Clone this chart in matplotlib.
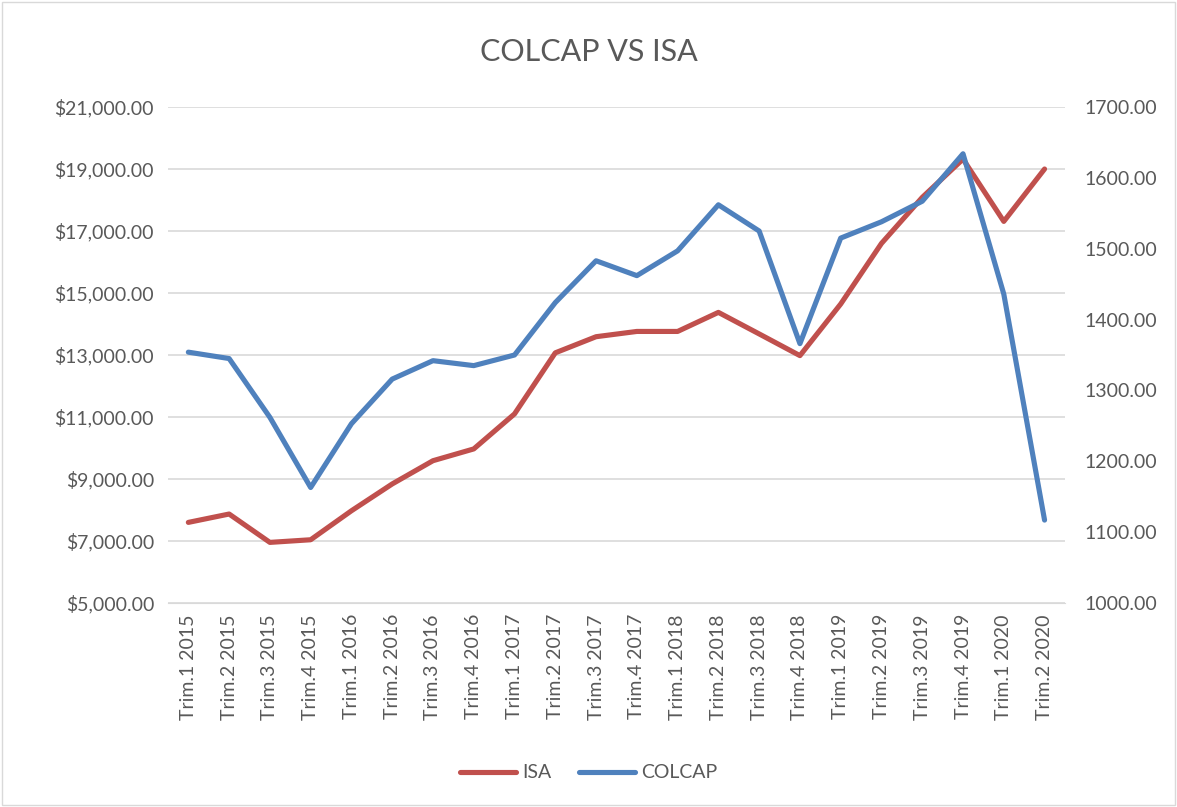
import matplotlib
matplotlib.use("Agg")
import matplotlib.pyplot as plt
from matplotlib.ticker import FuncFormatter
from matplotlib.lines import Line2D

categories = ["Trim.1 2015", "Trim.2 2015", "Trim.3 2015", "Trim.4 2015",
              "Trim.1 2016", "Trim.2 2016", "Trim.3 2016", "Trim.4 2016",
              "Trim.1 2017", "Trim.2 2017", "Trim.3 2017", "Trim.4 2017",
              "Trim.1 2018", "Trim.2 2018", "Trim.3 2018", "Trim.4 2018",
              "Trim.1 2019", "Trim.2 2019", "Trim.3 2019", "Trim.4 2019",
              "Trim.1 2020", "Trim.2 2020"]
isa = [7600, 7870, 6955, 7040, 7975, 8840, 9590, 9970, 11100, 13070, 13590, 13760,
       13760, 14375, 13680, 12980, 14645, 16600, 18085, 19320, 17310, 19000]
colcap = [1354, 1345, 1262, 1163, 1253, 1316, 1342, 1335, 1350, 1424, 1483, 1462,
          1497, 1562, 1525, 1366, 1515, 1538, 1567, 1634, 1436, 1117]

left_ticks = list(range(5000, 21001, 2000))
right_ticks = list(range(1000, 1701, 100))

txt = "#595959"
red = "#C0504D"
blue = "#4F81BD"
plt.rcParams['font.family'] = ['Lato', 'DejaVu Sans']

fig = plt.figure(figsize=(11.77, 8.07), dpi=100)
ax = fig.add_axes([0.1427, 0.2528, 0.9048 - 0.1427, 0.8674 - 0.2528])
ax2 = ax.twinx()

x = list(range(len(categories)))
ax.plot(x, isa, color=red, lw=3.7, solid_capstyle='round', solid_joinstyle='round', zorder=3)
ax2.plot(x, colcap, color=blue, lw=3.7, solid_capstyle='round', solid_joinstyle='round', zorder=3)

ax.set_xlim(-0.5, len(categories) - 0.5)
ax.set_ylim(5000, 21000)
ax2.set_ylim(1000, 1700)
ax.set_yticks(left_ticks)
ax2.set_yticks(right_ticks)
ax.yaxis.set_major_formatter(FuncFormatter(lambda v, p: "${:,.2f}".format(v)))
ax2.yaxis.set_major_formatter(FuncFormatter(lambda v, p: "{:.2f}".format(v)))
ax.set_xticks(x)
ax.set_xticklabels(categories, rotation=90)

ax.grid(axis='y', color="#d9d9d9", lw=1.2)
ax.set_axisbelow(True)
for a in (ax, ax2):
    for s in ('top', 'left', 'right', 'bottom'):
        a.spines[s].set_visible(False)
    a.tick_params(length=0, labelsize=14, colors=txt)
ax.spines['bottom'].set_visible(True)
ax.spines['bottom'].set_color("#d9d9d9")
ax.tick_params(axis='y', pad=10)
ax.tick_params(axis='x', pad=8)
ax2.tick_params(axis='y', pad=14)

fig.text(0.5, 1 - 52 / 807, "COLCAP VS ISA", ha='center', va='center', fontsize=22, color=txt)

handles = [Line2D([], [], color=red, lw=3.7, solid_capstyle='round'),
           Line2D([], [], color=blue, lw=3.7, solid_capstyle='round')]
fig.legend(handles, ["ISA", "COLCAP"], loc='center', bbox_to_anchor=(0.5, 1 - 773 / 807),
           ncol=2, frameon=False, fontsize=14, labelcolor=txt, handlelength=2.9,
           handletextpad=0.3, columnspacing=1.4)

fig.patches.append(plt.Rectangle((0.002, 0.002), 0.996, 0.996, transform=fig.transFigure,
                                 fill=False, edgecolor="#d9d9d9", lw=1))
fig.savefig("out.png", dpi=100)
